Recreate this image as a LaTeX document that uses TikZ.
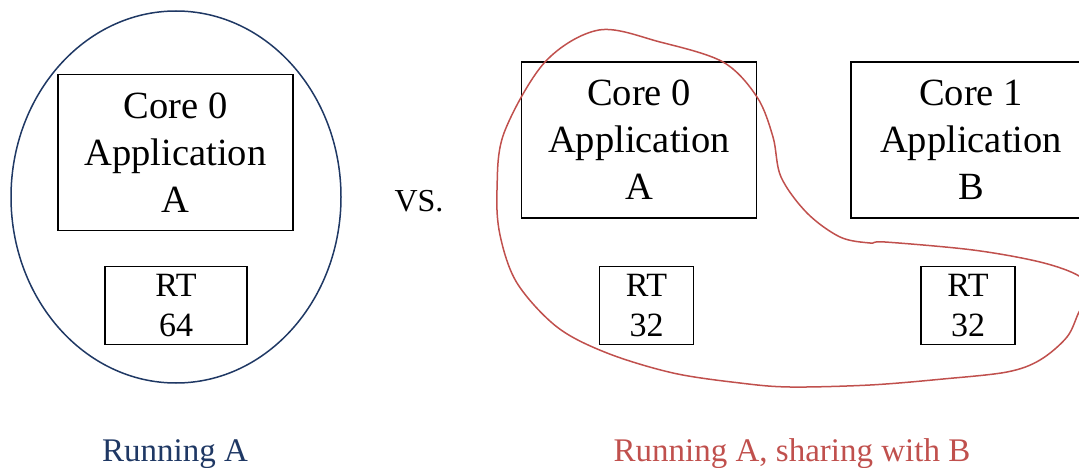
\documentclass[tikz,border=0pt]{standalone}
\usepackage{fontspec}
\setmainfont{Liberation Serif}
\usetikzlibrary{shapes.geometric}
\definecolor{navy}{RGB}{31,56,100}
\definecolor{brick}{RGB}{192,80,77}
\tikzset{
  corebox/.style={draw=black, line width=1.8pt, rectangle, align=center,
    minimum width=235pt, minimum height=156pt, inner sep=0pt,
    font=\fontsize{38.5pt}{47pt}\selectfont},
  rtbox/.style={draw=black, line width=1.8pt, rectangle, align=center,
    minimum width=94pt, minimum height=78pt, inner sep=0pt,
    font=\fontsize{34pt}{40pt}\selectfont},
  caption/.style={anchor=base, font=\fontsize{33pt}{40pt}\selectfont},
  group/.style={line width=1.5pt}
}
\begin{document}
\begin{tikzpicture}[x=1pt, y=-1pt]
\useasboundingbox (0,0) rectangle (1079,468);
\begin{scope}
\clip (0,0) rectangle (1079,468);

% single application on one core
\node[ellipse, draw=navy, group, minimum width=330pt, minimum height=372pt, inner sep=0pt] (solo) at (176,197) {};
\node[corebox] (coreL) at (175.5,152.5) {Core 0\\Application\\A};
\node[rtbox, minimum width=142pt] (rtL) at (176,305.5) {RT\\64};

\node[anchor=base, font=\fontsize{32pt}{38pt}\selectfont] (vs) at (419,211) {VS.};

% two applications sharing the resources
\node[corebox] (coreA) at (639,140) {Core 0\\Application\\A};
\node[corebox, minimum width=240pt] (coreB) at (971,140) {Core 1\\Application\\B};
\node[rtbox] (rtA) at (646.5,305.5) {RT\\32};
\node[rtbox] (rtB) at (968,305.5) {RT\\32};

% region grouping application A with the shared resources
\draw[brick, group] plot[smooth cycle, tension=0.55] coordinates {
  (599,30) (660,42) (723,62) (757,97) (773,137) (781,177) (807,213)
  (840,237) (870,243) (885,242) (973,250) (1040,262) (1079,276)
  (1090,293) (1079,312) (1067,337) (1040,360) (1007,372) (943,379)
  (870,385) (790,387) (740,383) (673,373) (607,353) (557,327)
  (517,283) (500,235) (497,190) (504,133) (545,62)};
\end{scope}

\node[caption, text=navy] (capL) at (175,461) {Running A};
\node[caption, text=brick] (capR) at (792,461) {Running A, sharing with B};
\end{tikzpicture}
\end{document}
